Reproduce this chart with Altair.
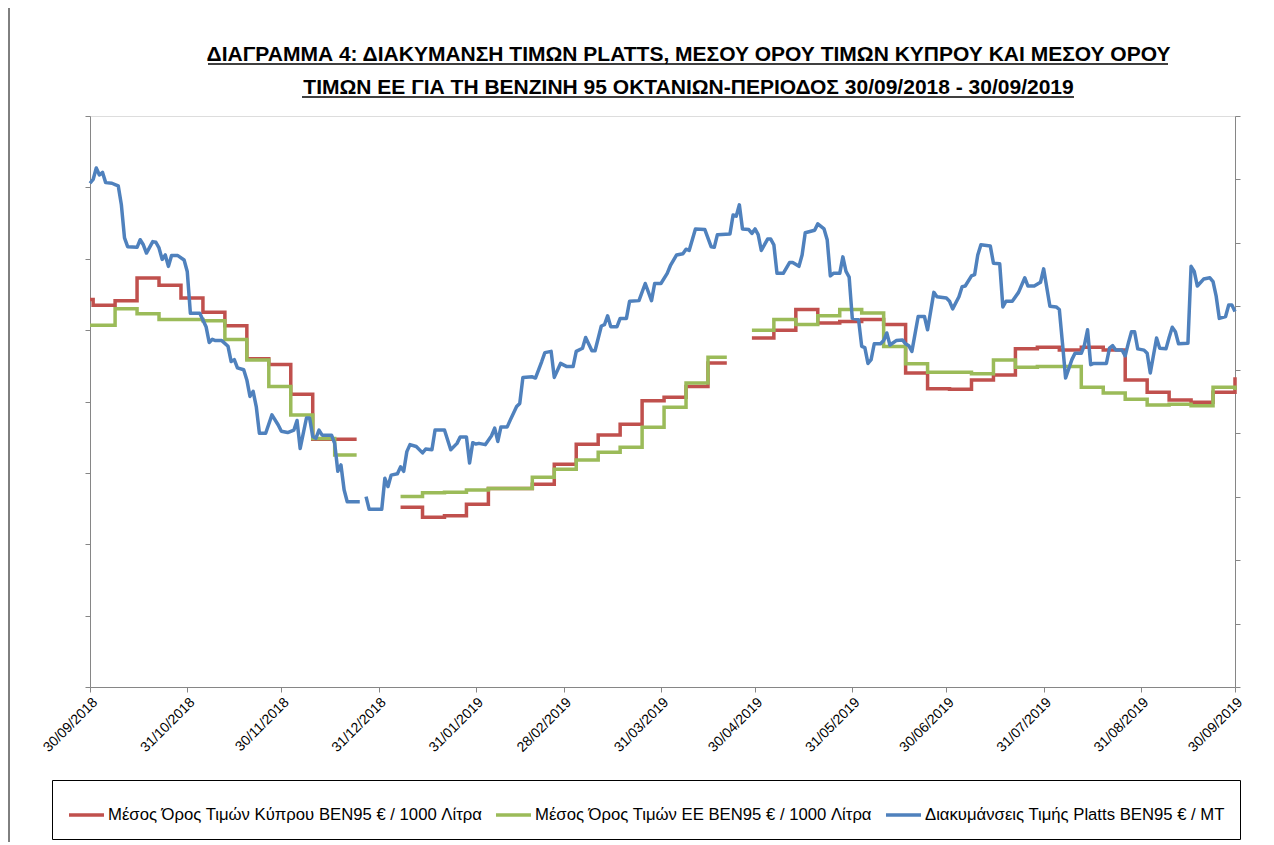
import altair as alt
import pandas as pd

# ---------------- data ----------------
START = "2018-09-30"
series_names = [
    "Μέσος Όρος Τιμών Κύπρου BEN95 € / 1000  Λίτρα",
    "Μέσος Όρος Τιμών ΕΕ BEN95 € / 1000  Λίτρα",
    "Διακυμάνσεις Τιμής Platts BEN95 € / MT",
]
series_colors = ["#C0504D", "#9BBB59", "#4F81BD"]

# month-end tick labels
x_ticks = [(2018, 9, 30), (2018, 10, 31), (2018, 11, 30), (2018, 12, 31),
           (2019, 1, 31), (2019, 2, 28), (2019, 3, 31), (2019, 4, 30),
           (2019, 5, 31), (2019, 6, 30), (2019, 7, 31), (2019, 8, 31),
           (2019, 9, 30)]

# Cyprus average (weekly steps), day offset from 30/09/2018; None = gap
cy_day = [0, 1, 8, 15, 22, 29, 36, 43, 50, 57, 64, 71, 85,
          92,
          99, 106, 113, 120, 127, 141, 148, 155, 162, 169, 176, 183, 190, 197, 203,
          207,
          211, 218, 225, 232, 239, 246, 253, 260, 267, 274, 281, 288, 295, 302, 309,
          316, 323, 330, 337, 344, 351, 358, 365]
cy_val = [543, 535, 541, 573, 563, 545, 525, 506, 460, 452, 410, 347, 347,
          None,
          252, 238, 240, 256, 278, 284, 312, 340, 353, 368, 401, 406, 421, 454, 454,
          None,
          489, 500, 529, 510, 512, 515, 508, 440, 418, 417, 430, 437, 474, 476, 472,
          476, 472, 430, 413, 402, 399, 413, 434]

# EU average (weekly steps)
eu_day = [0, 8, 15, 22, 36, 43, 50, 57, 64, 71, 78, 85,
          92,
          99, 106, 113, 120, 127, 141, 148, 155, 162, 169, 176, 183, 190, 197, 203,
          207,
          211, 218, 225, 232, 239, 246, 253, 260, 267, 281, 288, 295, 302, 316, 323,
          330, 337, 344, 351, 358, 365]
eu_val = [507, 530, 523, 515, 513, 487, 458, 421, 381, 348, 325, 325,
          None,
          267, 272, 273, 276, 278, 294, 305, 318, 329, 336, 364, 392, 426, 462, 462,
          None,
          500, 515, 508, 520, 529, 524, 477, 453, 441, 439, 458, 448, 449, 420, 412,
          403, 395, 396, 394, 420, 416]

# Platts (daily), right axis
pl_day = [0, 1, 2, 3, 4, 5, 7, 8, 9, 10, 11, 12, 15, 16, 17, 18, 20, 21, 22, 23,
          24, 25, 26, 28, 30, 31, 32, 35, 37, 38, 39, 40, 42, 44, 45, 46, 47, 49, 50, 51,
          52, 53, 54, 56, 58, 60, 61, 63, 65, 66, 67, 69, 70, 71, 72, 73, 74, 77, 78, 79,
          80, 81, 82, 86, 87, 88, 89, 93, 94, 95, 96, 98, 99, 100, 101, 102, 104, 106, 107, 109,
          110, 113, 115, 117, 118, 120, 121, 122, 123, 124, 126, 128, 129, 130, 131, 133, 134, 136, 137, 138,
          141, 142, 144, 145, 147, 148, 150, 152, 154, 155, 157, 158, 160, 161, 163, 164, 165, 166, 168, 169,
          171, 172, 175, 177, 179, 180, 182, 184, 185, 187, 189, 190, 191, 193, 196, 198, 199, 200, 204, 205,
          206, 207, 208, 210, 211, 212, 213, 214, 216, 217, 218, 219, 221, 223, 224, 226, 227, 228, 231, 232,
          234, 235, 236, 237, 239, 240, 241, 242, 243, 245, 246, 247, 248, 249, 250, 252, 253, 254, 255, 257,
          259, 260, 261, 262, 264, 266, 267, 269, 270, 273, 274, 275, 277, 278, 279, 281, 282, 283, 284, 287,
          288, 290, 291, 292, 294, 296, 298, 299, 301, 303, 304, 306, 308, 309, 310, 311, 313, 314, 316, 317,
          318, 319, 320, 323, 324, 325, 326, 327, 329, 330, 331, 332, 333, 334, 336, 337, 338, 340, 341, 343,
          344, 345, 346, 347, 350, 351, 352, 353, 355, 357, 358, 359, 360, 362, 363, 364, 365]
pl_val = [794, 800, 818, 807, 811, 795, 794, 792, 790, 760, 708, 694, 693, 705, 697, 684, 702, 701, 692, 674,
          681, 663, 680, 680, 673, 655, 589, 589, 568, 543, 548, 546, 546, 537, 513, 516, 503, 500, 484, 458,
          466, 442, 400, 400, 429, 413, 403, 401, 405, 420, 376, 424, 424, 395, 392, 405, 397, 397, 384, 340,
          350, 311, 292, 292, None, 300, 280, 280, 329, 316, 334, 336, 347, 340, 371, 382, 379, 369, 375, 374,
          405, 405, 374, 384, 394, 394, 353, 385, 383, 384, 382, 396, 408, 387, 410, 410, 421, 442, 447, 488,
          489, 487, 513, 527, 529, 488, 510, 505, 505, 529, 534, 551, 530, 530, 569, 571, 585, 568, 568, 581,
          581, 608, 609, 636, 609, 636, 636, 652, 664, 681, 683, 690, 688, 722, 721, 694, 693, 713, 714, 744,
          742, 760, 722, 721, 715, 722, 713, 688, 706, 706, 697, 652, 652, 669, 669, 663, 681, 716, 720, 730,
          722, 705, 648, 652, 652, 678, 655, 646, 581, 579, 537, 535, 510, 516, 541, 541, 546, 558, 539, 546,
          547, 541, 538, 529, 584, 584, 563, 622, 615, 613, 608, 596, 615, 631, 632, 648, 650, 681, 697, 695,
          668, 667, 599, 608, 608, 622, 645, 632, 632, 638, 659, 600, 599, 595, 542, 487, 516, 526, 526, 539,
          563, 508, 510, 510, 510, 534, 538, 531, 531, 522, 542, 560, 560, 533, 531, 526, 495, 550, 534, 533,
          551, 567, 560, 541, 542, 663, 655, 632, 643, 645, 639, 616, 581, 584, 602, 602, 592]

assert len(cy_day) == len(cy_val) and len(eu_day) == len(eu_val) and len(pl_day) == len(pl_val)

title_lines = ["ΔΙΑΓΡΑΜΜΑ 4: ΔΙΑΚΥΜΑΝΣΗ ΤΙΜΩΝ PLATTS, ΜΕΣΟΥ ΟΡΟΥ ΤΙΜΩΝ ΚΥΠΡΟΥ ΚΑΙ ΜΕΣΟΥ ΟΡΟΥ",
               "ΤΙΜΩΝ ΕΕ ΓΙΑ ΤΗ ΒΕΝΖΙΝΗ 95 ΟΚΤΑΝΙΩΝ-ΠΕΡΙΟΔΟΣ 30/09/2018 - 30/09/2019"]


def build(days, vals, name):
    df = pd.DataFrame({"day": days, "value": vals})
    df["seg"] = df["value"].isna().cumsum()
    df = df.dropna().copy()
    df["date"] = pd.Timestamp(START) + pd.to_timedelta(df["day"], unit="D")
    df["series"] = name
    df["key"] = name + "_" + df["seg"].astype(str)
    return df[["date", "value", "series", "key"]]


steps_df = pd.concat([build(cy_day, cy_val, series_names[0]),
                      build(eu_day, eu_val, series_names[1])], ignore_index=True)
platts_df = build(pl_day, pl_val, series_names[2])

# ---------------- chart ----------------
FONT = "Liberation Sans, Arial, sans-serif"
AX = "#868686"

x_enc = alt.X(
    "date:T",
    scale=alt.Scale(domain=[alt.DateTime(year=2018, month=9, date=30),
                            alt.DateTime(year=2019, month=9, date=30)]),
    axis=alt.Axis(values=[alt.DateTime(year=y, month=m, date=d) for y, m, d in x_ticks],
                  format="%d/%m/%Y", labelAngle=-45, grid=False, title=None,
                  domainColor=AX, tickColor=AX, tickSize=5, labelFontSize=14,
                  labelColor="#000000", labelFont=FONT, labelPadding=3),
)

color_enc = alt.Color(
    "series:N",
    scale=alt.Scale(domain=series_names, range=series_colors),
    legend=alt.Legend(title=None, orient="none", legendX=-38, legendY=664,
                      direction="horizontal", symbolType="stroke", symbolSize=1225,
                      symbolStrokeWidth=3.5, labelFontSize=16.7, labelFont=FONT,
                      labelColor="#000000", labelLimit=600, labelOffset=2,
                      columnPadding=2, padding=15, strokeColor="#000000",
                      fillColor="#FFFFFF"),
)

steps = alt.Chart(steps_df).mark_line(interpolate="step-after", strokeWidth=3.5).encode(
    x=x_enc,
    y=alt.Y("value:Q", scale=alt.Scale(domain=[0, 800]),
            axis=alt.Axis(orient="left", values=list(range(0, 801, 100)), labels=False,
                          grid=False, title=None, domainColor=AX, tickColor=AX, tickSize=5)),
    color=color_enc,
    detail="key:N",
)

platts = alt.Chart(platts_df).mark_line(strokeWidth=3.5, strokeJoin="round").encode(
    x=x_enc,
    y=alt.Y("value:Q", scale=alt.Scale(domain=[0, 900]),
            axis=alt.Axis(orient="right", values=list(range(0, 901, 100)), labels=False,
                          grid=False, title=None, domainColor=AX, tickColor=AX, tickSize=5)),
    color=color_enc,
    detail="key:N",
)

# decorations: underlines of the two title lines and the chart-area frame edge
underline1 = alt.Chart().mark_rule(color="#000000", strokeWidth=1.5).encode(
    x=alt.value(118), x2=alt.value(1078), y=alt.value(-52))
underline2 = alt.Chart().mark_rule(color="#000000", strokeWidth=1.5).encode(
    x=alt.value(212), x2=alt.value(984), y=alt.value(-19))
frame_left = alt.Chart().mark_rule(color="#000000", strokeWidth=1).encode(
    x=alt.value(-81), y=alt.value(-108), y2=alt.value(730))

chart = alt.layer(steps, platts, underline1, underline2, frame_left).resolve_scale(
    y="independent"
).properties(
    width=1145,
    height=571,
    autosize="none",
    padding={"left": 82, "top": 108, "right": 25, "bottom": 155},
    title=alt.TitleParams(
        text=title_lines,
        font=FONT, fontSize=21, fontWeight="bold", color="#000000",
        anchor="middle", dx=26, lineHeight=33, offset=-90,
    ),
).configure_view(strokeWidth=0).configure(background="#FFFFFF")

chart.save("out.html", embed_options={"renderer": "svg", "actions": False})
